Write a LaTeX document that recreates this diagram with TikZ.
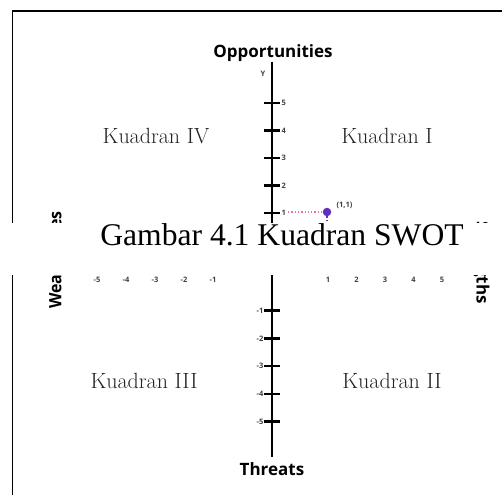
\documentclass[tikz,border=0pt]{standalone}
\usepackage{fontspec}
\newfontfamily\capfont{Liberation Serif}
\newfontfamily\axfont{Open Sans}
\usetikzlibrary{positioning}
\definecolor{ptpurple}{RGB}{96,48,190}
\definecolor{ptpink}{RGB}{228,120,150}
\definecolor{kgray}{RGB}{35,35,35}
\tikzset{
  axlabel/.style={font=\axfont\bfseries\fontsize{17}{17}\selectfont,inner sep=0,anchor=base},
  ticklabel/.style={font=\axfont\bfseries\fontsize{7.5}{8}\selectfont,text=black!75,inner sep=0},
  kuadran/.style={font=\fontsize{22}{22}\selectfont,text=kgray,inner sep=0,anchor=base},
  tick/.style={line width=2.5pt},
}

\begin{document}
\begin{tikzpicture}[x=1pt,y=-1pt]
          \useasboundingbox (0,0) rectangle (502,495);
          % frame
          \draw[line width=1.8pt] (12.5,495) -- (12.5,11) -- (502,11);
          % y axis
          \coordinate (ytop) at (272,62);
          \coordinate (ybot) at (272,457);
          \draw[line width=2.8pt] (ytop) -- (ybot);
          \foreach \k in {1,...,5} {
            \draw[tick] (264,{240.5-27.5*\k}) -- (280,{240.5-27.5*\k});
            \node[ticklabel,anchor=west] at (281.5,{240.5-27.5*\k}) {\k};
            \draw[tick] (264,{283+27.7*\k}) -- (280,{283+27.7*\k});
            \node[ticklabel,anchor=east] at (263.5,{283+27.7*\k}) {-\k};
            \node[ticklabel] at ({242-29*\k},280) {-\k};
            \node[ticklabel] at ({299.5+28.5*\k},280) {\k};
          }
          \node[ticklabel] (ylab) at (263,74) {Y};
          % axis names
          \node[axlabel] (opp) at (273,57) {Opportunities};
          \node[axlabel] (thr) at (272,475) {Threats};
          \node[axlabel,rotate=90,xscale=0.94,anchor=west] (weak) at (55,309) {Weaknesses};
          \node[axlabel,rotate=-90,anchor=east] (str) at (481,304) {Strengths};
          % quadrants
          \node[kuadran] (kIV) at (156,143) {Kuadran IV};
          \node[kuadran] (kI) at (387,143) {Kuadran I};
          \node[kuadran] (kIII) at (144,388) {Kuadran III};
          \node[kuadran] (kII) at (392,388) {Kuadran II};
          % point (1,1)
          \coordinate (y1) at (288,212);
          \coordinate (x1) at (327,250);
          \node[fill=ptpurple,inner sep=0pt,minimum size=8.5pt,shape=circle] (pt) at (327,212) {};
          \draw[ptpink,line width=1.3pt,dotted] (y1) -- (pt);
          \draw[ptpurple,line width=1.3pt,dotted] (pt) -- (x1);
          \node[ticklabel,right=5pt of pt,yshift=7pt] (ptlab) {(1,1)};
          % caption band
          \fill[white] (0,222.5) rectangle (502,274.5);
          \node[font=\capfont\fontsize{31.6}{32}\selectfont,inner sep=0,anchor=base] (cap) at (282,245) {Gambar 4.1 Kuadran SWOT};
        \end{tikzpicture}
\end{document}
